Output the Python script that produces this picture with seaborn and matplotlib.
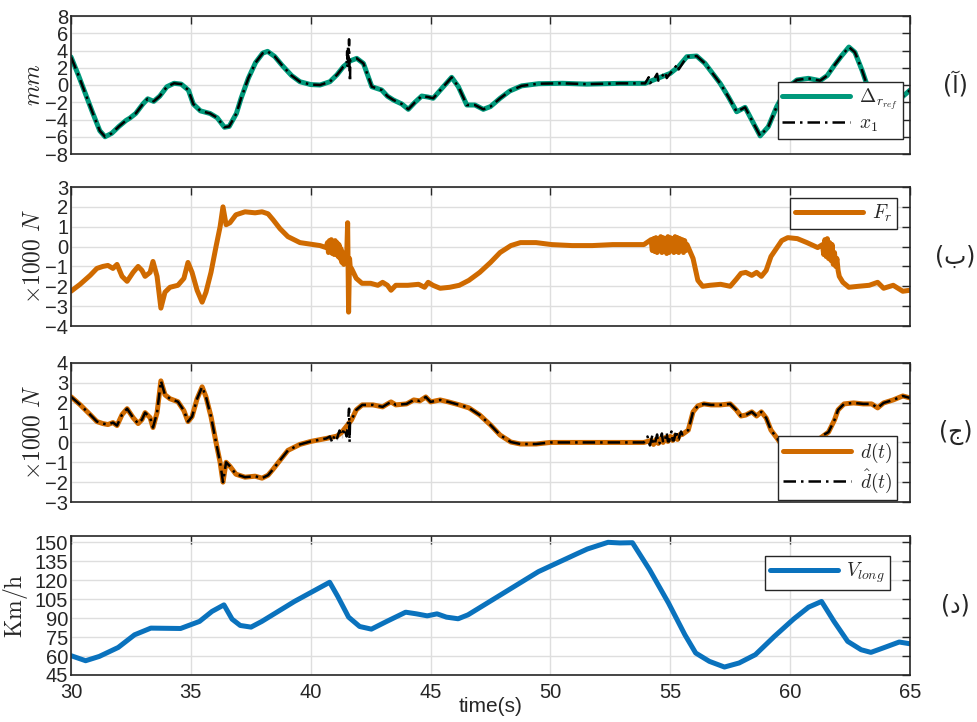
import numpy as np
import pandas as pd
import matplotlib
matplotlib.use("Agg")
import matplotlib.pyplot as plt
import seaborn as sns

# ---------------- data ----------------
# (a) reference steering offset and tracked state, mm
delta_t = [30.0, 30.3, 30.6, 30.9, 31.2, 31.42, 31.7, 32.0, 32.3, 32.46, 32.7, 33.0, 33.2, 33.45,
           33.7, 34.0, 34.3, 34.6, 34.9, 35.1, 35.4, 35.8, 36.1, 36.4, 36.6, 36.9, 37.1, 37.4,
           37.7, 38.0, 38.2, 38.5, 38.8, 39.2, 39.55, 40.0, 40.39, 40.8, 41.1, 41.36, 41.65,
           41.92, 42.2, 42.55, 42.96, 43.2, 43.45, 43.8, 44.07, 44.35, 44.63, 44.9, 45.11,
           45.5, 45.88, 46.16, 46.51, 46.85, 47.2, 47.5, 47.9, 48.3, 48.8, 49.5, 50.5, 51.5,
           52.9, 53.95, 54.3, 55.0, 55.34, 55.69, 56.1, 56.45, 57.08, 57.42, 57.77, 58.12,
           58.47, 58.75, 59.09, 59.44, 59.86, 60.28, 60.76, 61.25, 61.55, 61.85, 62.15, 62.45,
           62.7, 63.0, 63.25, 63.5, 63.9, 64.3, 64.67, 65.0]
delta_v = [3.25, 1.2, -1.0, -3.2, -5.3, -6.0, -5.6, -4.8, -4.1, -3.83, -3.3, -2.2, -1.6, -1.9,
           -1.3, -0.2, 0.2, 0.1, -0.6, -2.2, -3.0, -3.3, -3.8, -4.9, -4.8, -3.3, -1.5, 0.8,
           2.6, 3.7, 3.9, 3.3, 2.3, 1.1, 0.38, 0.05, 0.0, 0.38, 1.2, 2.12, 2.8,
           3.09, 2.5, -0.2, -0.58, -1.3, -1.74, -2.2, -2.82, -2.0, -1.28, -1.4, -1.54,
           -0.3, 0.89, -0.2, -2.32, -2.32, -2.82, -2.5, -1.54, -0.7, -0.1, 0.15, 0.2, 0.1,
           0.19, 0.19, 0.58, 1.35, 2.12, 3.28, 3.36, 2.5, 0.19, -1.36, -3.1, -2.59,
           -4.44, -5.9, -4.83, -2.51, -0.38, 0.58, 0.77, 0.5, 1.1, 2.3, 3.4, 4.4,
           3.8, 1.7, -0.35, -1.8, -2.6, -2.2, -1.4, -0.6]
# chattering of the tracked state around the switching instants
x1_chat_t = [41.50, 41.52, 41.54, 41.56, 41.58, 41.60, 41.62, 41.64, 41.66,
             54.10, 54.15, 54.45, 54.50, 54.80, 54.85, 55.30, 55.35]
x1_chat_v = [2.4, 3.9, 2.2, 4.6, 2.6, 5.3, 1.8, 0.4, 2.9,
             0.9, 0.2, 1.3, 0.5, 1.5, 0.8, 2.4, 1.8]

# (b) lateral force, x1000 N
fr_t = [30.0, 30.38, 30.8, 31.08, 31.33, 31.54, 31.75, 31.92, 32.13, 32.34, 32.59, 32.8,
        32.96, 33.09, 33.3, 33.42, 33.59, 33.75, 33.92, 34.13, 34.46, 34.71, 34.88, 35.05,
        35.26, 35.47, 35.63, 35.84, 36.05, 36.22, 36.34, 36.47, 36.63, 36.88, 37.26, 37.68,
        37.97, 38.22, 38.43, 38.72, 39.05, 39.55, 40.39, 40.64,
        40.70, 40.74, 40.78, 40.82, 40.86, 40.90, 40.94, 40.98, 41.02, 41.06, 41.10, 41.14,
        41.18, 41.22, 41.26, 41.30, 41.34, 41.38, 41.42, 41.46, 41.50, 41.54, 41.58, 41.62,
        41.66, 41.70, 41.9,
        42.14, 42.5, 42.8, 43.0, 43.2, 43.35, 43.55, 44.05, 44.5, 44.75, 44.9, 45.1, 45.4,
        45.8, 46.2, 46.6, 47.05, 47.5, 47.9, 48.35, 48.75, 49.4, 50.05, 50.9, 51.75, 52.6,
        53.45, 53.9,
        54.20, 54.25, 54.30, 54.35, 54.40, 54.45, 54.50, 54.55, 54.60, 54.65, 54.70, 54.75,
        54.80, 54.85, 54.90, 54.95, 55.00, 55.05, 55.10, 55.15, 55.20, 55.25, 55.30, 55.35,
        55.40, 55.45, 55.50, 55.55, 55.60, 55.65, 55.70,
        55.95, 56.15, 56.35, 56.65, 57.1, 57.5, 57.75, 57.95, 58.15, 58.4, 58.6, 58.8, 59.0,
        59.2, 59.45, 59.65, 59.9, 60.3, 60.7, 61.15,
        61.35, 61.40, 61.45, 61.50, 61.55, 61.60, 61.65, 61.70, 61.75, 61.80, 61.85, 61.90,
        61.95, 62.00, 62.05,
        62.2, 62.45, 62.85, 63.3, 63.65, 63.9, 64.3, 64.7, 65.0]
fr_v = [-2.25, -1.9, -1.45, -1.1, -1.0, -0.95, -1.1, -0.9, -1.5, -1.75, -1.3, -1.0,
        -1.2, -1.5, -1.3, -0.75, -1.5, -3.1, -2.3, -2.05, -1.95, -1.6, -0.8, -1.3,
        -2.2, -2.8, -2.3, -1.3, 0.0, 1.0, 2.0, 1.1, 1.2, 1.6, 1.75, 1.7,
        1.75, 1.65, 1.35, 0.9, 0.5, 0.2, 0.05, -0.05,
        0.2, -0.3, 0.3, -0.2, 0.35, -0.35, 0.25, -0.4, 0.3, -0.3, 0.2, -0.5,
        0.1, -0.6, -0.1, -0.8, -0.3, -0.9, -0.4, -0.7, -0.5, 1.2, -3.3, -0.6,
        -1.2, -1.1, -1.6,
        -1.85, -1.85, -1.95, -1.8, -1.95, -2.2, -1.95, -1.95, -1.9, -2.05, -1.8, -1.95, -2.1,
        -2.05, -1.95, -1.7, -1.3, -0.8, -0.3, 0.05, 0.2, 0.2, 0.1, 0.05, 0.05, 0.1,
        0.1, 0.1,
        0.35, -0.2, 0.4, -0.25, 0.45, -0.3, 0.4, -0.2, 0.5, -0.3, 0.45, -0.25,
        0.4, -0.35, 0.5, -0.3, 0.45, -0.2, 0.4, -0.3, 0.5, -0.25, 0.45, -0.3,
        0.4, -0.2, 0.35, -0.3, 0.3, -0.2, 0.1,
        -0.6, -1.7, -2.0, -1.95, -1.9, -2.0, -1.65, -1.35, -1.3, -1.45, -1.3, -1.5, -1.2,
        -0.5, -0.05, 0.3, 0.45, 0.4, 0.2, -0.05,
        0.1, -0.4, 0.35, -0.5, 0.4, -0.6, 0.2, -0.7, 0.1, -0.9, -0.3, -1.0,
        -0.6, -1.2, -1.5,
        -1.8, -2.05, -2.0, -1.95, -1.8, -2.1, -1.95, -2.25, -2.2]

# (c) disturbance and its estimate, x1000 N
d_t = [30.0, 30.38, 30.8, 31.08, 31.33, 31.54, 31.75, 31.92, 32.13, 32.34, 32.59, 32.8,
       32.96, 33.09, 33.3, 33.42, 33.59, 33.75, 33.92, 34.13, 34.46, 34.71, 34.88, 35.05,
       35.26, 35.47, 35.63, 35.84, 36.05, 36.22, 36.34, 36.47, 36.63, 36.88, 37.26, 37.68,
       37.97, 38.22, 38.43, 38.72, 39.05, 39.55, 40.0, 40.65, 41.1, 41.3, 41.55,
       41.7, 41.9, 42.15, 42.6, 43.0, 43.2, 43.35, 43.55, 44.0, 44.3, 44.55, 44.8, 45.0,
       45.4, 45.75, 46.2, 46.6, 47.05, 47.5, 47.9, 48.35, 48.75, 49.4, 50.0, 51.75, 53.45,
       53.9, 54.2, 54.3, 54.4, 54.5, 54.6, 54.7, 54.8, 54.9, 55.0, 55.1, 55.2, 55.3, 55.4,
       55.5, 55.75, 55.95, 56.15, 56.4, 56.7, 57.1, 57.5, 57.75, 57.95, 58.15, 58.4,
       58.6, 58.8, 59.0, 59.2, 59.45, 59.65, 59.9, 60.3, 60.7, 61.15, 61.6, 61.85, 62.0,
       62.25, 62.65, 63.05, 63.4, 63.65, 63.9, 64.3, 64.7, 65.0]
d_v = [2.3, 1.9, 1.4, 1.05, 0.95, 0.9, 1.0, 0.85, 1.4, 1.7, 1.25, 0.95,
       1.15, 1.5, 1.25, 0.75, 1.5, 3.1, 2.4, 2.2, 2.05, 1.6, 1.05, 1.3,
       2.2, 2.8, 2.3, 1.3, 0.0, -1.0, -2.0, -1.0, -1.2, -1.6, -1.75, -1.7,
       -1.8, -1.65, -1.35, -0.9, -0.4, -0.1, 0.05, 0.2, 0.32, 0.52, 0.9,
       1.13, 1.64, 1.89, 1.89, 1.79, 1.94, 2.04, 1.89, 1.94, 2.14, 2.09, 2.29, 2.04,
       2.14, 2.04, 1.89, 1.74, 1.38, 0.88, 0.37, 0.02, -0.08, -0.08, 0.0, 0.0, 0.0,
       0.0, 0.1, -0.1, 0.15, -0.05, 0.2, 0.0, 0.25, 0.05, 0.3, 0.1, 0.35, 0.15, 0.4,
       0.4, 0.62, 1.54, 1.84, 1.94, 1.89, 1.89, 1.94, 1.64, 1.33, 1.38, 1.54,
       1.33, 1.54, 1.23, 0.62, 0.22, -0.13, -0.28, -0.28, 0.0, 0.12, 0.52, 1.13, 1.64,
       1.94, 1.99, 1.94, 1.94, 1.74, 1.99, 2.14, 2.34, 2.24]
# estimate ripples where the observer chatters
dh_chat_t = [40.8, 40.9, 41.0, 41.1, 41.2, 41.3, 41.4, 41.5, 41.6, 41.62, 41.64,
             54.05, 54.15, 54.25, 54.35, 54.45, 54.55, 54.65, 54.75, 54.85, 54.95,
             55.05, 55.15, 55.25, 55.35, 55.45,
             60.75, 60.85, 60.95, 61.05, 61.15, 61.25, 61.35]
dh_chat_v = [0.3, 0.0, 0.4, 0.1, 0.6, 0.2, 0.7, 0.3, 1.7, 0.0, 1.0,
             0.3, -0.15, 0.35, -0.1, 0.4, -0.05, 0.45, 0.0, 0.5, 0.05,
             0.55, 0.1, 0.6, 0.15, 0.55,
             0.15, -0.1, 0.2, -0.05, 0.25, 0.0, 0.35]

# (d) longitudinal speed, km/h
v_t = [30.0, 30.61, 31.18, 31.97, 32.65, 33.33, 34.57, 35.36, 35.88, 36.38, 36.72, 37.06,
       37.51, 37.96, 39.32, 40.79, 41.13, 41.58, 42.04, 42.53, 43.17, 43.96, 44.41, 44.86,
       45.27, 45.66, 46.15, 46.56, 47.92, 49.5, 51.09, 51.54, 52.4, 52.9, 53.42, 54.14,
       54.93, 55.61, 56.06, 56.63, 57.26, 57.87, 58.55, 59.34, 60.14, 60.77, 61.31, 61.83,
       62.4, 62.96, 63.37, 63.98, 64.55, 65.0]
v_v = [60.3, 56.3, 59.7, 66.8, 76.8, 82.1, 81.8, 87.4, 95.3, 100.5, 89.2, 84.2,
       82.9, 87.4, 103.2, 118.4, 107.1, 90.8, 83.4, 81.3, 87.4, 94.7, 93.4, 91.8,
       93.4, 90.8, 89.5, 92.6, 108.4, 126.8, 140.8, 144.7, 150.0, 149.5, 149.7, 128.2,
       101.8, 76.8, 62.4, 55.8, 51.3, 54.5, 61.1, 75.5, 89.2, 98.7, 103.2, 87.4,
       71.6, 65.0, 62.9, 67.1, 71.1, 69.7]

# ---------------- tables ----------------
df_delta = pd.DataFrame({"t": delta_t, "v": delta_v})
df_x1 = pd.concat([df_delta, pd.DataFrame({"t": x1_chat_t, "v": x1_chat_v})]).sort_values("t")
df_fr = pd.DataFrame({"t": fr_t, "v": fr_v})
df_d = pd.DataFrame({"t": d_t, "v": d_v})
df_dh = pd.concat([df_d, pd.DataFrame({"t": dh_chat_t, "v": dh_chat_v})]).sort_values("t")
df_v = pd.DataFrame({"t": v_t, "v": v_v})

# ---------------- style ----------------
sns.set_theme(style="white")
plt.rcParams["font.family"] = ["Liberation Sans", "DejaVu Sans"]
plt.rcParams["mathtext.fontset"] = "cm"

GREEN = "#00997b"
ORANGE = "#cf6a00"
BLUE = "#0a72bd"
LW = 3.6
DASHDOT = (0, (5, 2, 1, 2))

fig = plt.figure(figsize=(9.77, 7.22), dpi=100)
L, W = 71 / 977, 839 / 977
rows = [(16, 154), (187, 326), (363, 502), (536, 675)]
axes = [fig.add_axes([L, 1 - b / 722, W, (b - t) / 722]) for t, b in rows]


def frame(ax, ylim, yticks):
    ax.set_xlim(30, 65)
    ax.set_ylim(*ylim)
    ax.set_yticks(yticks)
    ax.set_xticks([30, 35, 40, 45, 50, 55, 60, 65])
    ax.grid(True, color="#dedede", linewidth=1.0)
    ax.set_axisbelow(True)
    ax.tick_params(direction="in", length=6, width=1.0, top=True, right=True,
                   labelsize=14.5, colors="#262626")
    ax.tick_params(axis="y", pad=2)
    ax.tick_params(axis="x", pad=6)
    for s in ax.spines.values():
        s.set_color("#262626")
        s.set_linewidth(1.2)
    ax.set_xlabel("")
    ax.set_ylabel("")


def legend(ax, loc, anchor):
    lg = ax.legend(loc=loc, bbox_to_anchor=anchor, fontsize=14, frameon=True,
                   fancybox=False, framealpha=1, edgecolor="#262626",
                   handlelength=3.5, borderpad=0.25, labelspacing=0.15,
                   handletextpad=0.45, borderaxespad=0)
    lg.get_frame().set_linewidth(1.0)


# (a)
ax = axes[0]
sns.lineplot(data=df_delta, x="t", y="v", ax=ax, color=GREEN, lw=LW,
             label=r"$\Delta_{r_{ref}}$", sort=False)
sns.lineplot(data=df_x1, x="t", y="v", ax=ax, color="black", lw=1.8,
             ls=DASHDOT, label=r"$x_1$", sort=False)
frame(ax, (-8, 8), range(-8, 9, 2))
ax.set_ylabel(r"$mm$", fontsize=17)
legend(ax, "lower right", (0.992, 0.109))

# (b)
ax = axes[1]
sns.lineplot(data=df_fr, x="t", y="v", ax=ax, color=ORANGE, lw=LW, label=r"$F_r$", sort=False)
frame(ax, (-4, 3), range(-4, 4))
ax.set_ylabel(r"$\times 1000\ N$", fontsize=17)
legend(ax, "upper right", (0.9845, 0.921))

# (c)
ax = axes[2]
sns.lineplot(data=df_d, x="t", y="v", ax=ax, color=ORANGE, lw=LW, label=r"$d(t)$", sort=False)
sns.lineplot(data=df_dh, x="t", y="v", ax=ax, color="black", lw=1.8,
             ls=DASHDOT, label=r"$\hat{d}(t)$", sort=False)
frame(ax, (-3, 4), range(-3, 5))
ax.set_ylabel(r"$\times 1000\ N$", fontsize=17)
legend(ax, "lower right", (0.9845, 0.014))

# (d)
ax = axes[3]
sns.lineplot(data=df_v, x="t", y="v", ax=ax, color=BLUE, lw=LW, label=r"$V_{long}$", sort=False)
frame(ax, (45, 155), range(45, 151, 15))
ax.set_ylabel(r"$\mathrm{Km/h}$", fontsize=17)
legend(ax, "upper right", (0.976, 0.856))
ax.set_xlabel("time(s)", fontsize=15)
ax.xaxis.set_label_coords(0.5, -0.16)

for a in axes[:3]:
    a.tick_params(labelbottom=False)
for a in axes[:3]:
    a.yaxis.set_label_coords(-0.031, 0.5)
axes[3].yaxis.set_label_coords(-0.049, 0.5)

# panel tags
for a, tag in zip(axes, ["(آ)", "(ب)", "(ج)", "(د)"]):
    a.text(1.054, 0.5, tag, transform=a.transAxes, ha="center", va="center",
           fontsize=17, family=["DejaVu Sans"])

fig.savefig("out.png", dpi=100)
